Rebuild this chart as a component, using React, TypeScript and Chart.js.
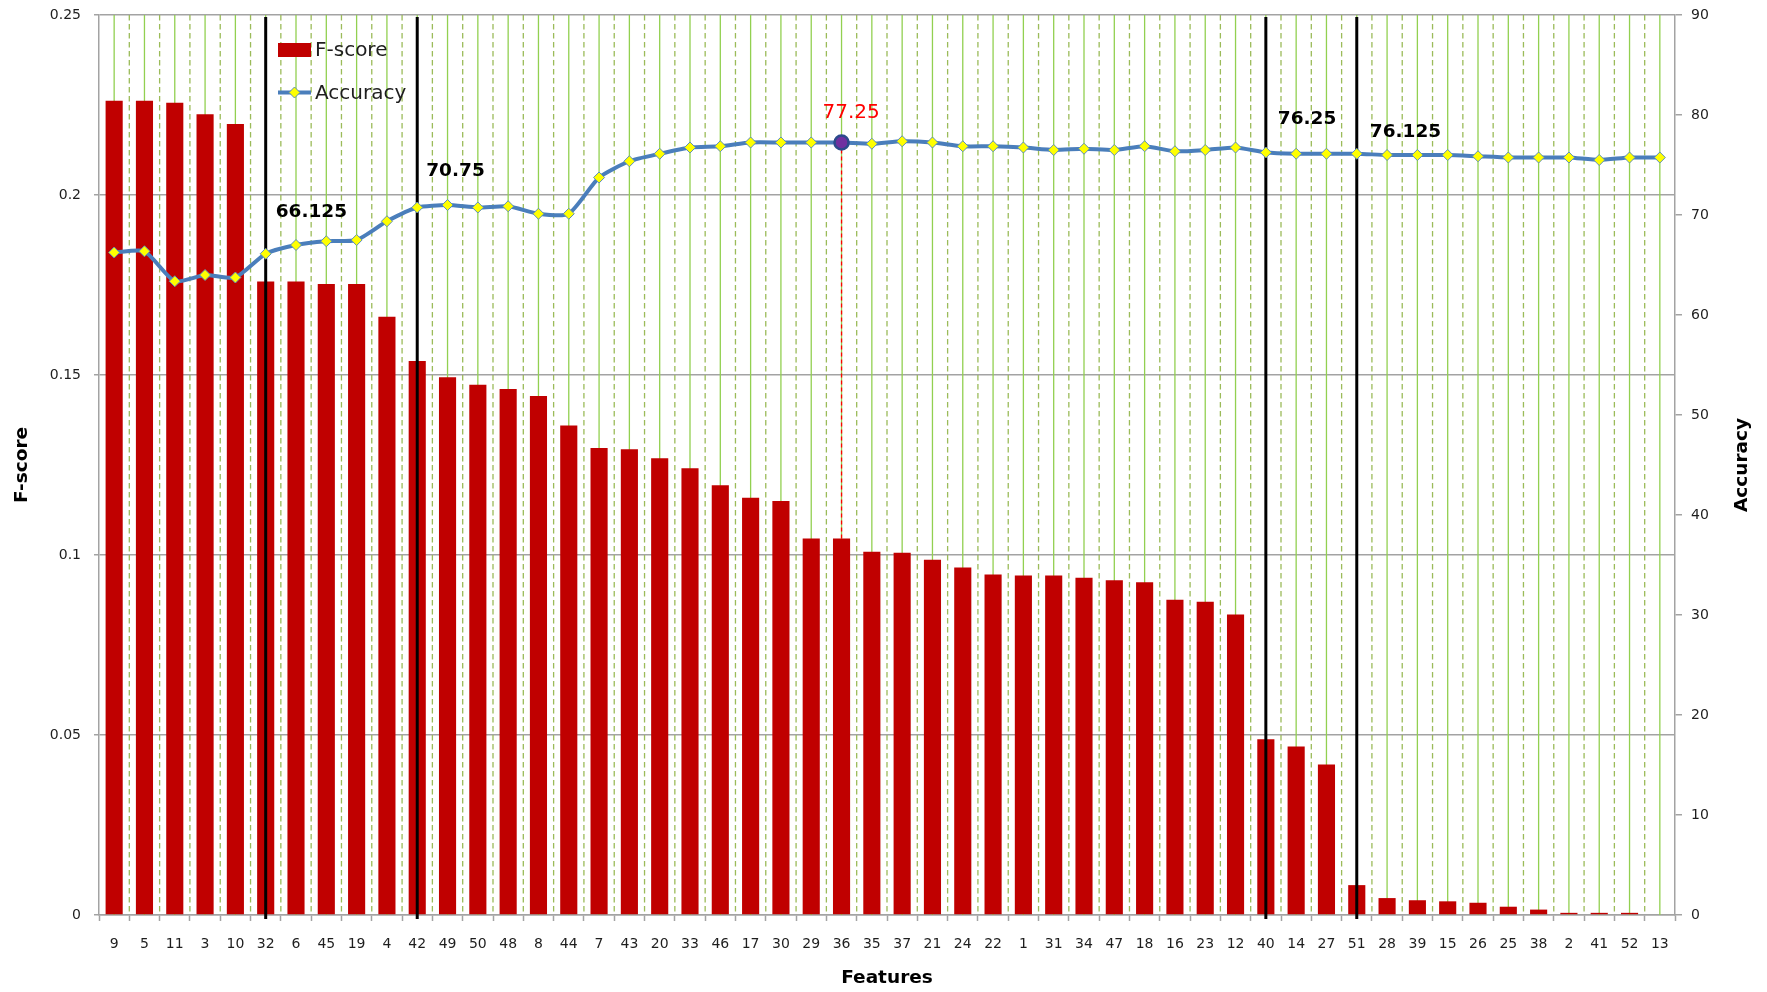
import React, { useEffect, useRef } from 'react';
import { Chart, registerables } from 'chart.js';

Chart.register(...registerables);

// ---------------- DATA ----------------
const features = ['9', '5', '11', '3', '10', '32', '6', '45', '19', '4', '42', '49', '50', '48', '8', '44', '7', '43', '20', '33', '46', '17', '30', '29', '36', '35', '37', '21', '24', '22', '1', '31', '34', '47', '18', '16', '23', '12', '40', '14', '27', '51', '28', '39', '15', '26', '25', '38', '2', '41', '52', '13'];

const fScore = [0.2262, 0.2262, 0.2256, 0.2224, 0.2197, 0.176, 0.176, 0.1753, 0.1753, 0.1662, 0.1539, 0.1494, 0.1473, 0.1461, 0.1442, 0.136, 0.1297, 0.1294, 0.1269, 0.1241, 0.1194, 0.1159, 0.115, 0.1046, 0.1046, 0.1009, 0.1006, 0.0987, 0.0965, 0.0946, 0.0943, 0.0943, 0.0937, 0.093, 0.0924, 0.0876, 0.087, 0.0835, 0.0488, 0.0468, 0.0418, 0.0083, 0.0047, 0.0041, 0.0038, 0.0034, 0.0023, 0.0015, 0.0006, 0.0006, 0.0006, 0];

const accuracy = [66.25, 66.375, 63.375, 64.0, 63.75, 66.125, 67.0, 67.375, 67.5, 69.375, 70.75, 71.0, 70.75, 70.875, 70.125, 70.125, 73.75, 75.375, 76.125, 76.75, 76.875, 77.25, 77.25, 77.25, 77.25, 77.125, 77.375, 77.25, 76.875, 76.875, 76.75, 76.5, 76.625, 76.5, 76.875, 76.375, 76.5, 76.75, 76.25, 76.125, 76.125, 76.125, 76.0, 76.0, 76.0, 75.875, 75.75, 75.75, 75.75, 75.5, 75.75, 75.75];

const fScoreTicks = [0, 0.05, 0.1, 0.15, 0.2, 0.25];
const accuracyTicks = [0, 10, 20, 30, 40, 50, 60, 70, 80, 90];

const markedFeatures = ['32', '42', '40', '51'];
const markedLabels = ['66.125', '70.75', '76.25', '76.125'];
const bestFeature = '36';
const bestLabel = '77.25';

const seriesNames = ['F-score', 'Accuracy'];
const xTitle = 'Features';
const yTitle = 'F-score';
const y1Title = 'Accuracy';

// ---------------- STYLE ----------------
const FONT = "'DejaVu Sans', Verdana, sans-serif";
const TEXT = '#1e1e1e';
const GRID = '#A3A3A3';
const BAR = '#C00000';
const LINE = '#4A7EBB';
// label offsets (px) relative to the point each label belongs to
const markedOffsets = [
  [10, -41.5],
  [9, -36],
  [12, -33.5],
  [13, -21.5],
];
const bestOffset = [-19, -29.5];

const bestIndex = features.indexOf(bestFeature);

function diamond(ctx: CanvasRenderingContext2D, x: number, y: number, r: number) {
  ctx.beginPath();
  ctx.moveTo(x, y - r);
  ctx.lineTo(x + r, y);
  ctx.lineTo(x, y + r);
  ctx.lineTo(x - r, y);
  ctx.closePath();
}

function noPad(s: any) {
  s.paddingTop = 0;
  s.paddingBottom = 0;
  s.paddingLeft = 0;
  s.paddingRight = 0;
}

const overlay = {
  id: 'overlay',
  beforeDatasetsDraw(chart: any) {
    const { ctx, chartArea: a, scales } = chart;
    const x = scales.x;
    ctx.save();
    ctx.lineWidth = 1.3;
    for (let i = 0; i < features.length; i++) {
      const cx = x.getPixelForValue(i);
      ctx.setLineDash([]);
      ctx.strokeStyle = '#92D050';
      ctx.beginPath();
      ctx.moveTo(cx, a.top);
      ctx.lineTo(cx, a.bottom);
      ctx.stroke();
      if (i > 0) {
        const bx = (x.getPixelForValue(i - 1) + cx) / 2;
        ctx.setLineDash([5.5, 3.5]);
        ctx.strokeStyle = '#9BBB59';
        ctx.beginPath();
        ctx.moveTo(bx, a.top);
        ctx.lineTo(bx, a.bottom);
        ctx.stroke();
      }
    }
    ctx.restore();
  },
  afterDatasetDraw(chart: any, args: any) {
    if (args.index !== 0) return;
    const { ctx, chartArea: a, scales } = chart;
    const x = scales.x;
    ctx.save();
    ctx.strokeStyle = '#000';
    ctx.lineWidth = 3;
    markedFeatures.forEach((f) => {
      const cx = x.getPixelForValue(features.indexOf(f));
      ctx.beginPath();
      ctx.moveTo(cx, a.top + 2);
      ctx.lineTo(cx, a.bottom + 4);
      ctx.stroke();
    });
    const bx = x.getPixelForValue(bestIndex);
    ctx.strokeStyle = '#FF0000';
    ctx.lineWidth = 1.3;
    ctx.setLineDash([4, 3]);
    ctx.beginPath();
    ctx.moveTo(bx, scales.y1.getPixelForValue(accuracy[bestIndex]));
    ctx.lineTo(bx, scales.y.getPixelForValue(fScore[bestIndex]));
    ctx.stroke();
    ctx.restore();
  },
  afterDraw(chart: any) {
    const { ctx, chartArea: a, scales } = chart;
    const x = scales.x;
    const y1 = scales.y1;
    ctx.save();
    // marked labels
    ctx.fillStyle = '#000';
    ctx.font = `bold 18.5px ${FONT}`;
    ctx.textAlign = 'left';
    ctx.textBaseline = 'middle';
    markedFeatures.forEach((f, k) => {
      const i = features.indexOf(f);
      const px = x.getPixelForValue(i);
      const py = y1.getPixelForValue(accuracy[i]);
      ctx.fillText(markedLabels[k], px + markedOffsets[k][0], py + markedOffsets[k][1]);
    });
    // best label
    ctx.fillStyle = '#FF0000';
    ctx.font = `20px ${FONT}`;
    ctx.fillText(
      bestLabel,
      x.getPixelForValue(bestIndex) + bestOffset[0],
      y1.getPixelForValue(accuracy[bestIndex]) + bestOffset[1]
    );

    // legend
    const lx = a.left + 179;
    const ly1 = a.top + 35;
    const ly2 = a.top + 77.5;
    ctx.fillStyle = BAR;
    ctx.fillRect(lx, ly1 - 7, 33, 14);
    ctx.strokeStyle = LINE;
    ctx.lineWidth = 4;
    ctx.beginPath();
    ctx.moveTo(lx, ly2);
    ctx.lineTo(lx + 33, ly2);
    ctx.stroke();
    diamond(ctx, lx + 16.5, ly2, 5.5);
    ctx.fillStyle = '#FFFF00';
    ctx.fill();
    ctx.lineWidth = 1;
    ctx.strokeStyle = '#5B8DB8';
    ctx.stroke();
    ctx.fillStyle = TEXT;
    ctx.font = `20px ${FONT}`;
    ctx.textAlign = 'left';
    ctx.fillText(seriesNames[0], lx + 37, ly1 + 1);
    ctx.fillText(seriesNames[1], lx + 37, ly2 + 1);

    // axis titles
    ctx.font = `bold 18.5px ${FONT}`;
    ctx.fillStyle = '#000';
    ctx.textAlign = 'center';
    ctx.fillText(xTitle, (a.left + a.right) / 2, chart.height - 14);
    const cy = (a.top + a.bottom) / 2;
    ctx.save();
    ctx.translate(22.5, cy);
    ctx.rotate(-Math.PI / 2);
    ctx.fillText(yTitle, 0, 0);
    ctx.restore();
    ctx.save();
    ctx.translate(chart.width - 25, cy);
    ctx.rotate(-Math.PI / 2);
    ctx.fillText(y1Title, 0, 0);
    ctx.restore();
    ctx.restore();
  },
};

export default function App() {
  const ref = useRef<HTMLCanvasElement | null>(null);

  useEffect(() => {
    if (!ref.current) return;
    Chart.defaults.font.family = FONT;
    const chart = new Chart(ref.current, {
      type: 'bar',
      data: {
        labels: features,
        datasets: [
          {
            type: 'bar',
            label: seriesNames[0],
            data: fScore,
            yAxisID: 'y',
            backgroundColor: BAR,
            borderWidth: 0,
            barPercentage: 0.565,
            categoryPercentage: 1,
            order: 1,
          },
          {
            type: 'line',
            label: seriesNames[1],
            data: accuracy,
            yAxisID: 'y1',
            borderColor: LINE,
            borderWidth: 4,
            tension: 0.2,
            pointStyle: features.map((f) => (f === bestFeature ? 'circle' : 'rectRot')) as any,
            pointRadius: features.map((f) => (f === bestFeature ? 7 : 5.5)),
            pointBackgroundColor: features.map((f) => (f === bestFeature ? '#7030A0' : '#FFFF00')),
            pointBorderColor: features.map((f) => (f === bestFeature ? '#2C4A8C' : '#5B8DB8')),
            pointBorderWidth: features.map((f) => (f === bestFeature ? 2.6 : 1)),
            order: 0,
          } as any,
        ],
      },
      options: {
        responsive: false,
        animation: false,
        devicePixelRatio: 1,
        layout: { padding: { top: 15, left: 0, right: 0, bottom: 0 } },
        plugins: {
          legend: { display: false },
          tooltip: { enabled: false },
        },
        scales: {
          x: {
            type: 'category',
            offset: true,
            afterFit: (s: any) => {
              s.height = 77;
              noPad(s);
            },
            grid: {
              drawOnChartArea: false,
              drawTicks: true,
              tickLength: 6,
              tickColor: GRID,
              tickWidth: 1.5,
              offset: true,
              color: GRID,
            },
            border: { display: true, color: GRID, width: 1.5 },
            ticks: {
              color: TEXT,
              font: { size: 14, family: FONT },
              padding: 15,
              autoSkip: false,
              maxRotation: 0,
              minRotation: 0,
            },
          },
          y: {
            type: 'linear',
            position: 'left',
            min: 0,
            max: 0.25,
            afterFit: (s: any) => {
              s.width = 99;
              noPad(s);
            },
            afterBuildTicks: (s: any) => {
              s.ticks = fScoreTicks.map((v) => ({ value: v }));
            },
            grid: {
              color: GRID,
              lineWidth: 1.5,
              tickLength: 5,
              drawTicks: true,
            },
            border: { display: true, color: GRID, width: 1.5 },
            ticks: {
              color: TEXT,
              font: { size: 14, family: FONT },
              padding: 13,
              callback: (v: any) => String(parseFloat(Number(v).toFixed(4))),
            },
          },
          y1: {
            type: 'linear',
            position: 'right',
            min: 0,
            max: 90,
            afterFit: (s: any) => {
              s.width = 92;
              noPad(s);
            },
            afterBuildTicks: (s: any) => {
              s.ticks = accuracyTicks.map((v) => ({ value: v }));
            },
            grid: {
              drawOnChartArea: false,
              color: GRID,
              lineWidth: 1.5,
              tickLength: 7,
              drawTicks: true,
            },
            border: { display: true, color: GRID, width: 1.5 },
            ticks: {
              color: TEXT,
              font: { size: 14, family: FONT },
              padding: 9,
            },
          },
        },
      } as any,
      plugins: [overlay],
    });
    return () => chart.destroy();
  }, []);

  return (
    <div style={{ position: 'absolute', left: 0, top: 0, width: 1767, height: 992, background: '#fff' }}>
      <canvas ref={ref} width={1767} height={992} style={{ display: 'block' }} />
    </div>
  );
}
